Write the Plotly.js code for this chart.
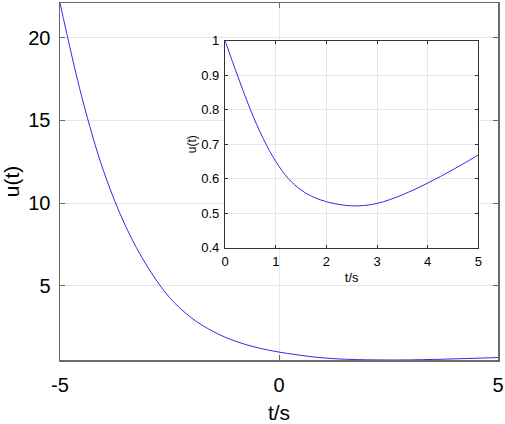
<!DOCTYPE html>
<html>
<head>
<meta charset="utf-8">
<script src="https://cdn.plot.ly/plotly-3.0.1.min.js"></script>
<style>
  html, body { margin: 0; padding: 0; background: #fff; }
  #chart { width: 505px; height: 424px; }
</style>
</head>
<body>
<div id="chart"></div>
<script>
// u(t)
const tWerte = [-5, -4.5, -4, -3.5, -3, -2.5, -2, -1.5, -1, -0.5,
  0, 0.25, 0.5, 0.75, 1, 1.25, 1.5, 1.75, 2, 2.25, 2.5, 2.75,
  3, 3.25, 3.5, 3.75, 4, 4.25, 4.5, 4.75, 5];
const uWerte = [22.1, 16.4, 11.9, 8.6, 6.15, 4.3, 3.07, 2.24, 1.66, 1.27,
  1.0, 0.897, 0.8, 0.717, 0.65, 0.6, 0.567, 0.546, 0.533, 0.525, 0.521, 0.522,
  0.528, 0.539, 0.553, 0.569, 0.587, 0.606, 0.626, 0.647, 0.669];

const hauptYTicks = [5, 10, 15, 20];
const hauptXTicks = [-5, 0, 5];
const insetXTicks = [0, 1, 2, 3, 4, 5];
const insetYTicks = [0.4, 0.5, 0.6, 0.7, 0.8, 0.9, 1];

const tInset = [];
const uInset = [];
tWerte.forEach((t, i) => {
  if (t >= 0) { tInset.push(t); uInset.push(uWerte[i]); }
});

const linienFarbe = "rgb(45, 45, 235)";
const schrift = "Arial, 'Liberation Sans', Helvetica, sans-serif";

const spurHaupt = {
  x: tWerte, y: uWerte, type: "scatter", mode: "lines",
  line: { color: linienFarbe, width: 1, shape: "spline" },
  xaxis: "x", yaxis: "y", hoverinfo: "skip"
};
const spurInset = {
  x: tInset, y: uInset, type: "scatter", mode: "lines",
  line: { color: linienFarbe, width: 1, shape: "spline" },
  xaxis: "x2", yaxis: "y2", hoverinfo: "skip"
};

const layout = {
  width: 505, height: 424,
  margin: { l: 60, r: 7, t: 3, b: 64 },
  paper_bgcolor: "#fff", plot_bgcolor: "#fff",
  showlegend: false,
  font: { family: schrift, color: "#000" },
  xaxis: {
    range: [-5, 5], tickvals: hauptXTicks, ticktext: hauptXTicks.map(String),
    domain: [0, 1],
    showline: true, linecolor: "#6a6a6a", linewidth: 1.5, mirror: "ticks",
    ticks: "inside", ticklen: 5, tickcolor: "#6a6a6a",
    showgrid: true, gridcolor: "#e6e6e6", zeroline: false,
    tickfont: { size: 20 }, ticklabelstandoff: 6,
    title: { text: "t/s", font: { size: 21 }, standoff: 14 }
  },
  yaxis: {
    range: [0.52, 22.1], tickvals: hauptYTicks, ticktext: hauptYTicks.map(String),
    domain: [0, 1],
    showline: true, linecolor: "#6a6a6a", linewidth: 1.5, mirror: "ticks",
    ticks: "inside", ticklen: 5, tickcolor: "#6a6a6a",
    showgrid: true, gridcolor: "#e6e6e6", zeroline: false,
    tickfont: { size: 20 }, ticklabelstandoff: 4,
    title: { text: "u(t)", font: { size: 21 }, standoff: 8 }
  },
  xaxis2: {
    anchor: "y2", domain: [0.377, 0.955], range: [0, 5],
    tickvals: insetXTicks, ticktext: insetXTicks.map(String),
    showline: true, linecolor: "#333", linewidth: 1.2, mirror: "ticks",
    ticks: "inside", ticklen: 3, tickcolor: "#333",
    showgrid: true, gridcolor: "#e6e6e6", zeroline: false,
    tickfont: { size: 13 }, ticklabelstandoff: 2,
    title: { text: "t/s", font: { size: 13 }, standoff: 4 }
  },
  yaxis2: {
    anchor: "x2", domain: [0.315, 0.894], range: [0.4, 1],
    tickvals: insetYTicks, ticktext: insetYTicks.map(String),
    showline: true, linecolor: "#333", linewidth: 1.2, mirror: "ticks",
    ticks: "inside", ticklen: 3, tickcolor: "#333",
    showgrid: true, gridcolor: "#e6e6e6", zeroline: false,
    tickfont: { size: 13 }, ticklabelstandoff: 2,
    title: { text: "u(t)", font: { size: 12 }, standoff: 2 }
  }
};

Plotly.newPlot("chart", [spurHaupt, spurInset], layout, { staticPlot: true });
</script>
</body>
</html>
